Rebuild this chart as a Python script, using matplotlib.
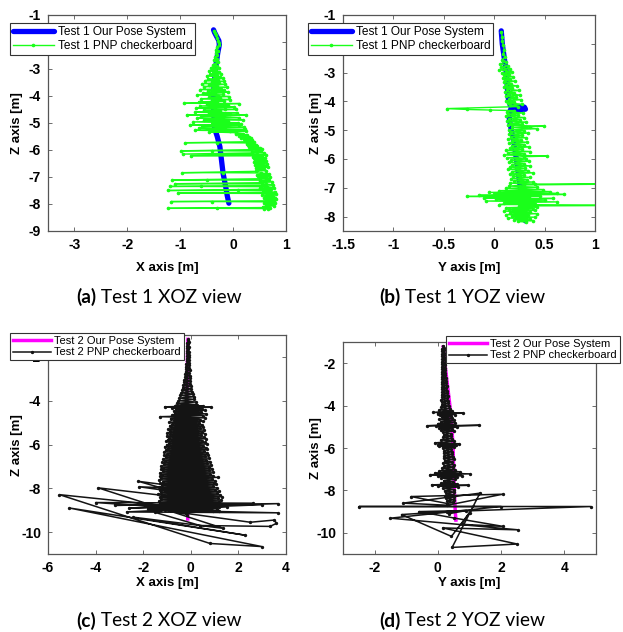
import matplotlib
matplotlib.use("Agg")
import matplotlib.pyplot as plt

plt.rcParams["font.family"] = ["Liberation Sans", "DejaVu Sans"]
plt.rcParams["axes.unicode_minus"] = False

# ---------------- data (x or y, z) in metres ----------------
# Test 1 - our pose system
t1_pose_x = [-0.37, -0.35, -0.31, -0.27, -0.26, -0.29, -0.32, -0.34, -0.36, -0.37,
             -0.37, -0.36, -0.35, -0.30, -0.25, -0.22, -0.19, -0.14, -0.11, -0.08]
t1_pose_z = [-1.55, -1.65, -1.80, -1.95, -2.10, -2.40, -2.80, -3.20, -3.60, -4.00,
             -4.40, -4.80, -5.20, -5.50, -5.88, -6.37, -6.86, -7.36, -7.70, -7.97]
t1_pose_y = [0.07, 0.08, 0.10, 0.12, 0.13, 0.14, 0.16, 0.30, 0.31, 0.16,
             0.15, 0.17, 0.20, 0.22, 0.24, 0.26, 0.28, 0.30, 0.31]
t1_pose_zy = [-1.55, -2.00, -2.50, -3.00, -3.50, -3.90, -4.15, -4.20, -4.27, -4.30,
              -4.60, -5.00, -5.50, -6.00, -6.50, -7.00, -7.50, -8.00, -8.15]

# Test 1 - PNP checkerboard, XOZ view (x, z)
t1_pnp_xoz = [
    (-0.36, -1.58), (-0.35, -1.66), (-0.33, -1.75), (-0.30, -1.85), (-0.28, -1.95),
    (-0.26, -2.05), (-0.27, -2.12), (-0.30, -2.20), (-0.32, -2.28), (-0.29, -2.35),
    (-0.33, -2.42), (-0.30, -2.50), (-0.35, -2.56), (-0.31, -2.62), (-0.36, -2.68),
    (-0.29, -2.74), (-0.34, -2.80), (-0.38, -2.86), (-0.30, -2.90),
    (-0.42, -2.95), (-0.27, -2.98), (-0.40, -3.02), (-0.32, -3.05), (-0.46, -3.08),
    (-0.26, -3.10), (-0.38, -3.14), (-0.22, -3.17), (-0.44, -3.20), (-0.30, -3.23),
    (-0.50, -3.26), (-0.24, -3.29), (-0.36, -3.32), (-0.20, -3.35), (-0.48, -3.38),
    (-0.28, -3.40), (-0.53, -3.43), (-0.18, -3.46), (-0.40, -3.49), (-0.26, -3.51),
    (-0.58, -3.54), (-0.15, -3.57), (-0.45, -3.60), (-0.30, -3.62), (-0.55, -3.65),
    (-0.12, -3.68), (-0.38, -3.70), (-0.22, -3.73), (-0.62, -3.76), (-0.18, -3.79),
    (-0.48, -3.82), (-0.10, -3.85), (-0.35, -3.87), (-0.56, -3.90), (-0.20, -3.93),
    (-0.68, -3.96), (-0.28, -3.99), (-0.08, -4.02), (-0.45, -4.05), (-0.25, -4.08),
    (-0.60, -4.10), (-0.05, -4.13), (-0.40, -4.16), (-0.18, -4.19), (-0.65, -4.22),
    (-0.30, -4.24), (-0.93, -4.27), (-0.40, -4.27), (0.12, -4.28), (-0.50, -4.31),
    (-0.10, -4.34), (-0.62, -4.37), (0.02, -4.40), (-0.35, -4.42), (-0.70, -4.45),
    (-0.15, -4.48), (0.05, -4.50), (-0.55, -4.53), (-0.25, -4.56), (-0.72, -4.59),
    (0.08, -4.62), (-0.45, -4.64), (-0.05, -4.67), (-0.88, -4.70), (-0.30, -4.70),
    (0.25, -4.71), (-0.60, -4.74), (-0.20, -4.77), (0.12, -4.80), (-0.68, -4.82),
    (-0.35, -4.85), (0.18, -4.88), (-0.55, -4.90), (-0.10, -4.93), (-0.75, -4.96),
    (0.10, -4.99), (-0.40, -5.02), (0.15, -5.05), (-0.82, -5.07), (0.12, -5.08),
    (-0.58, -5.11), (-0.15, -5.14), (0.20, -5.16), (-0.65, -5.19), (-0.30, -5.22),
    (0.22, -5.24), (-0.72, -5.27), (-0.05, -5.29), (0.25, -5.31), (-0.45, -5.33),
    (0.05, -5.36),
    (0.18, -5.39), (0.05, -5.42), (0.26, -5.45), (0.12, -5.48), (0.30, -5.51),
    (0.15, -5.54), (0.33, -5.57), (0.20, -5.60), (0.36, -5.63), (0.22, -5.66),
    (0.40, -5.69), (-0.91, -5.73), (-0.30, -5.73), (0.38, -5.74), (0.26, -5.77),
    (0.44, -5.80), (0.28, -5.83), (0.46, -5.86), (0.30, -5.89), (0.50, -5.92),
    (0.33, -5.95), (0.55, -5.98), (-0.98, -6.03), (-0.40, -6.03), (0.52, -6.04),
    (0.36, -6.07), (0.58, -6.10), (-0.95, -6.15), (0.45, -6.16), (0.62, -6.19),
    (-0.80, -6.21), (0.55, -6.22), (0.38, -6.25), (0.60, -6.28), (0.40, -6.31),
    (0.56, -6.34), (0.42, -6.37), (0.62, -6.40), (0.40, -6.43), (0.58, -6.46),
    (0.44, -6.49), (0.64, -6.52), (0.42, -6.55), (0.60, -6.58), (0.45, -6.61),
    (0.66, -6.64), (0.43, -6.67), (0.58, -6.70), (0.46, -6.73), (0.62, -6.76),
    (0.44, -6.79), (-0.96, -6.84), (-0.20, -6.84), (0.52, -6.85), (0.68, -6.88),
    (0.46, -6.91), (0.64, -6.94), (0.48, -6.97), (0.70, -7.00), (0.50, -7.03),
    (0.66, -7.06), (-1.15, -7.11), (-0.50, -7.11), (0.68, -7.12), (0.50, -7.15),
    (0.74, -7.18), (0.55, -7.21), (-1.10, -7.25), (0.62, -7.26), (0.76, -7.29),
    (0.52, -7.32), (-1.20, -7.35), (-0.60, -7.35), (0.65, -7.36), (0.78, -7.39),
    (0.50, -7.42), (0.72, -7.45), (-1.24, -7.50), (0.10, -7.50), (0.70, -7.51),
    (0.56, -7.54), (0.80, -7.57), (-1.05, -7.60), (0.72, -7.61), (0.82, -7.64),
    (0.55, -7.67), (0.76, -7.70), (0.60, -7.73), (0.80, -7.76), (0.58, -7.79),
    (0.82, -7.82), (0.62, -7.85), (0.78, -7.88), (-1.17, -7.91), (-0.40, -7.91),
    (0.64, -7.92), (0.80, -7.95), (0.58, -7.98), (0.76, -8.01), (0.62, -8.04),
    (0.78, -8.07), (0.56, -8.10), (0.70, -8.13), (-1.24, -8.16), (-0.30, -8.16),
    (0.66, -8.17), (0.58, -8.19),
]

# Test 1 - PNP checkerboard, YOZ view (y, z)
t1_pnp_yoz = [
    (0.07, -1.60), (0.08, -1.75), (0.08, -1.90), (0.09, -2.05), (0.10, -2.20),
    (0.09, -2.35), (0.11, -2.45), (0.08, -2.55), (0.12, -2.62), (0.06, -2.70),
    (0.14, -2.76), (0.07, -2.82), (0.16, -2.87), (0.05, -2.90), (0.12, -2.94),
    (0.18, -2.98), (0.08, -3.02), (0.15, -3.06), (0.10, -3.10), (0.19, -3.14),
    (0.09, -3.18), (0.16, -3.22), (0.11, -3.26), (0.21, -3.30), (0.10, -3.34),
    (0.17, -3.38), (0.12, -3.42), (0.23, -3.46), (0.10, -3.50), (0.18, -3.54),
    (0.13, -3.58), (0.25, -3.62), (0.11, -3.66), (0.20, -3.70), (0.14, -3.74),
    (0.26, -3.78), (0.12, -3.82), (0.22, -3.86), (0.15, -3.90), (0.27, -3.94),
    (0.12, -3.98), (0.20, -4.02), (0.14, -4.06), (0.28, -4.10), (0.16, -4.14),
    (0.24, -4.18), (-0.47, -4.25), (-0.27, -4.28), (-0.04, -4.30), (0.20, -4.32),
    (0.13, -4.36), (0.29, -4.40), (0.14, -4.44), (0.24, -4.48), (0.12, -4.52),
    (0.30, -4.56), (0.15, -4.60), (0.26, -4.64), (0.13, -4.68), (0.32, -4.72),
    (0.16, -4.76), (0.28, -4.80), (0.14, -4.83), (0.49, -4.86), (0.36, -4.88),
    (0.18, -4.90), (0.42, -4.95), (0.15, -4.98), (0.30, -5.02), (0.17, -5.06),
    (0.34, -5.10), (0.15, -5.14), (0.28, -5.18), (0.17, -5.22), (0.32, -5.26),
    (0.14, -5.30), (0.27, -5.34), (0.18, -5.38), (0.33, -5.42), (0.15, -5.46),
    (0.30, -5.50), (0.18, -5.54), (0.35, -5.58), (0.16, -5.62), (0.28, -5.66),
    (0.12, -5.70), (0.36, -5.74), (0.14, -5.78), (0.30, -5.82), (0.10, -5.86),
    (0.52, -5.90), (0.30, -5.92), (0.13, -5.96), (0.32, -6.00), (0.17, -6.04),
    (0.35, -6.08), (0.15, -6.12), (0.30, -6.16), (0.18, -6.20), (0.36, -6.24),
    (0.16, -6.28), (0.31, -6.32), (0.14, -6.36), (0.34, -6.40), (0.18, -6.44),
    (0.38, -6.48), (0.16, -6.52), (0.30, -6.56), (0.19, -6.60), (0.36, -6.64),
    (0.17, -6.68), (0.33, -6.72), (0.20, -6.76), (0.38, -6.80), (0.16, -6.84),
    (0.40, -6.87), (1.60, -6.86), (0.30, -6.90), (0.15, -6.94), (0.42, -6.98),
    (0.12, -7.02), (0.48, -7.06), (0.05, -7.10), (0.55, -7.13), (-0.05, -7.16),
    (0.62, -7.19), (0.00, -7.22), (0.69, -7.23), (-0.15, -7.26), (0.45, -7.28),
    (-0.27, -7.30), (0.35, -7.32), (-0.10, -7.35), (0.58, -7.37), (0.02, -7.40),
    (0.50, -7.43), (-0.08, -7.46), (0.62, -7.49), (0.10, -7.52), (0.40, -7.55),
    (0.05, -7.58), (1.60, -7.61), (0.25, -7.63), (0.42, -7.66), (0.12, -7.69),
    (0.38, -7.72), (0.15, -7.75), (0.40, -7.78), (0.10, -7.81), (0.36, -7.84),
    (0.16, -7.87), (0.42, -7.90), (0.12, -7.93), (0.34, -7.96), (0.18, -7.99),
    (0.40, -8.02), (0.14, -8.05), (0.36, -8.08), (0.20, -8.11), (0.38, -8.14),
    (0.24, -8.17), (0.32, -8.19),
]

# Test 2 - our pose system
t2_pose_x = [-0.12, -0.14, -0.15, -0.17, -0.17, -0.16, -0.15, -0.14, -0.13, -0.13]
t2_pose_z = [-1.20, -2.00, -3.00, -4.00, -5.00, -6.00, -7.00, -8.00, -9.00, -9.40]
t2_pose_y = [0.17, 0.22, 0.30, 0.38, 0.44, 0.48, 0.50, 0.52, 0.55, 0.57]
t2_pose_zy = [-1.23, -2.00, -3.00, -4.00, -5.00, -6.00, -7.00, -8.00, -9.00, -9.40]

# Test 2 - PNP checkerboard, XOZ view (x, z)
t2_pnp_xoz = [
    (-0.10, -1.20), (-0.13, -1.25), (-0.09, -1.30), (-0.14, -1.36), (-0.10, -1.42),
    (-0.14, -1.48), (-0.09, -1.54), (-0.15, -1.60), (-0.10, -1.66), (-0.15, -1.72),
    (-0.08, -1.78), (-0.16, -1.84), (-0.09, -1.90), (-0.16, -1.96), (-0.08, -2.02),
    (-0.17, -2.08), (-0.07, -2.14), (-0.18, -2.20), (-0.08, -2.26), (-0.19, -2.32),
    (-0.06, -2.38), (-0.20, -2.44), (-0.07, -2.50), (-0.21, -2.56), (-0.05, -2.62),
    (-0.22, -2.68), (-0.06, -2.74), (-0.24, -2.80), (-0.04, -2.86), (-0.25, -2.92),
    (-0.05, -2.98), (-0.27, -3.04), (-0.03, -3.10), (-0.29, -3.16), (-0.02, -3.22),
    (-0.31, -3.28), (0.00, -3.34), (-0.34, -3.40), (0.02, -3.46), (-0.37, -3.52),
    (0.05, -3.58), (-0.40, -3.64), (0.08, -3.70), (-0.44, -3.76), (0.12, -3.82),
    (-0.48, -3.88), (0.15, -3.94), (-0.52, -4.00), (0.20, -4.06), (-0.58, -4.12),
    (0.28, -4.18), (-0.65, -4.22), (0.50, -4.24),
    (-1.10, -4.28), (0.85, -4.30), (-0.80, -4.33), (0.45, -4.36), (-0.62, -4.40),
    (0.58, -4.44), (-0.72, -4.48), (0.42, -4.52), (-0.66, -4.56), (0.62, -4.60),
    (-0.78, -4.64), (0.50, -4.68), (-1.30, -4.73), (-0.55, -4.75), (0.60, -4.78),
    (-0.85, -4.82), (0.38, -4.86), (-0.72, -4.90), (0.52, -4.94), (-0.90, -4.98),
    (0.35, -5.02), (-0.78, -5.06), (0.48, -5.10), (-0.88, -5.14), (0.52, -5.18),
    (-0.82, -5.22), (0.40, -5.26), (-0.95, -5.30), (0.55, -5.34), (-0.86, -5.38),
    (0.45, -5.42), (-0.98, -5.46), (0.58, -5.50), (-0.88, -5.54), (0.42, -5.58),
    (-1.00, -5.62), (0.55, -5.66), (-0.92, -5.70), (0.62, -5.74), (-0.97, -5.78),
    (0.48, -5.82), (-1.04, -5.86), (0.58, -5.90), (-0.92, -5.94), (0.66, -5.98),
    (-1.02, -6.02), (0.52, -6.06), (-1.10, -6.10), (0.62, -6.14), (-0.96, -6.18),
    (0.70, -6.22), (-1.06, -6.26), (0.56, -6.30), (-1.12, -6.34), (0.66, -6.38),
    (-1.00, -6.42), (0.74, -6.46), (-1.14, -6.50), (0.60, -6.54), (-1.06, -6.58),
    (0.78, -6.62), (-1.16, -6.66), (0.65, -6.70), (-1.08, -6.74), (0.82, -6.78),
    (-1.20, -6.82), (0.70, -6.86), (-1.12, -6.90), (0.86, -6.94), (-1.24, -6.98),
    (0.75, -7.02), (-1.15, -7.06), (0.90, -7.10), (-1.26, -7.14), (0.78, -7.18),
    (-1.18, -7.22), (0.95, -7.26), (-1.30, -7.30), (0.82, -7.34), (-1.22, -7.38),
    (0.92, -7.42), (-1.28, -7.46), (1.15, -7.50), (-1.24, -7.54), (0.90, -7.58),
    (-1.32, -7.62), (1.02, -7.66), (-1.18, -7.70), (0.96, -7.74), (-1.28, -7.78),
    (1.06, -7.82), (-1.22, -7.86), (0.92, -7.90), (-1.32, -7.94), (1.10, -7.98),
    (-1.20, -8.02), (1.00, -8.06), (-1.30, -8.10), (1.18, -8.14), (-1.26, -8.18),
    (1.08, -8.22), (-1.36, -8.26), (1.24, -8.30), (-1.22, -8.34), (1.30, -8.38),
    (-1.30, -8.42), (1.15, -8.46), (-1.25, -8.50), (1.28, -8.54), (-1.32, -8.58),
    (1.20, -8.62), (-1.28, -8.66), (1.32, -8.70), (-1.22, -8.74), (1.25, -8.78),
    (-1.30, -8.82), (1.18, -8.86), (-1.20, -8.90), (1.10, -8.94), (-1.10, -8.98),
    (0.95, -9.02),
    (-4.00, -8.65), (2.60, -8.68), (-3.20, -8.78), (3.68, -8.70), (-2.60, -8.90),
    (3.00, -8.75), (-1.80, -8.95), (1.50, -8.85), (-2.70, -9.08), (3.68, -9.12),
    (-1.30, -9.00), (1.20, -9.05), (-5.52, -8.29), (0.81, -10.52), (2.98, -10.66),
    (-5.10, -8.90), (2.28, -10.14), (-2.41, -9.32), (1.37, -9.83), (-3.89, -7.98),
    (0.60, -8.55), (-2.21, -7.68), (0.40, -8.05), (-2.17, -7.93), (0.90, -8.40),
    (-1.50, -9.10), (0.39, -9.70), (3.33, -9.74), (3.60, -9.60), (3.51, -9.45),
    (2.50, -9.55), (-0.50, -9.10), (-0.15, -9.20),
]

# Test 2 - PNP checkerboard, YOZ view (y, z)
t2_pnp_yoz = [
    (0.15, -1.20), (0.19, -1.26), (0.14, -1.32), (0.19, -1.38), (0.13, -1.44),
    (0.20, -1.50), (0.14, -1.56), (0.20, -1.62), (0.13, -1.68), (0.21, -1.74),
    (0.14, -1.80), (0.21, -1.86), (0.13, -1.92), (0.22, -1.98), (0.14, -2.04),
    (0.22, -2.10), (0.13, -2.16), (0.23, -2.22), (0.14, -2.28), (0.23, -2.34),
    (0.13, -2.40), (0.24, -2.46), (0.14, -2.52), (0.24, -2.58), (0.13, -2.64),
    (0.25, -2.70), (0.14, -2.76), (0.26, -2.82), (0.13, -2.88), (0.26, -2.94),
    (0.12, -3.00), (0.28, -3.06), (0.14, -3.12), (0.27, -3.18), (0.12, -3.24),
    (0.29, -3.30), (0.13, -3.36), (0.30, -3.42), (0.12, -3.48), (0.31, -3.54),
    (0.14, -3.60), (0.30, -3.66), (0.11, -3.72), (0.32, -3.78), (0.13, -3.84),
    (0.33, -3.90), (0.12, -3.96), (0.34, -4.02), (0.10, -4.08), (0.38, -4.14),
    (0.05, -4.20), (0.45, -4.26), (-0.15, -4.32), (0.80, -4.36), (0.00, -4.38),
    (0.55, -4.42), (0.08, -4.46), (0.40, -4.50), (0.12, -4.55), (0.45, -4.60),
    (0.05, -4.65), (0.50, -4.70), (0.10, -4.75), (0.55, -4.80), (0.00, -4.85),
    (0.48, -4.90), (-0.34, -4.95), (1.31, -4.93), (-0.05, -4.98), (0.60, -5.02),
    (0.05, -5.06), (0.45, -5.10), (0.10, -5.15), (0.50, -5.20), (0.15, -5.26),
    (0.40, -5.32), (0.18, -5.38), (0.42, -5.44), (0.16, -5.50), (0.45, -5.56),
    (0.10, -5.62), (0.52, -5.68), (-0.10, -5.76), (0.66, -5.80), (0.00, -5.84),
    (0.58, -5.88), (0.05, -5.92), (0.50, -5.96), (0.15, -6.00), (0.42, -6.06),
    (0.20, -6.12), (0.45, -6.18), (0.18, -6.24), (0.46, -6.30), (0.20, -6.36),
    (0.48, -6.42), (0.18, -6.48), (0.50, -6.54), (0.21, -6.60), (0.45, -6.66),
    (0.16, -6.72), (0.50, -6.78), (0.20, -6.84), (0.48, -6.90), (0.12, -6.96),
    (0.55, -7.02), (0.05, -7.08), (0.70, -7.12), (-0.10, -7.18), (1.00, -7.22),
    (-0.25, -7.26), (0.75, -7.30), (0.00, -7.34), (0.60, -7.38), (0.10, -7.42),
    (0.55, -7.48), (0.18, -7.54), (0.48, -7.60), (0.10, -7.66), (0.60, -7.70),
    (-0.20, -7.74), (0.95, -7.76), (0.00, -7.80), (0.65, -7.84), (0.15, -7.90),
    (0.50, -7.96), (0.22, -8.02), (0.50, -8.08), (0.25, -8.14), (0.48, -8.20),
    (0.22, -8.26), (0.52, -8.32), (0.26, -8.38), (0.50, -8.44), (0.28, -8.50),
    (0.48, -8.56), (0.30, -8.62),
    (-0.85, -8.29), (2.05, -8.18), (0.30, -8.70), (-1.10, -8.60), (1.33, -8.13),
    (0.45, -10.69), (2.51, -10.53), (0.15, -9.77), (2.54, -9.86), (-1.50, -9.31),
    (1.99, -8.76), (-2.49, -8.76), (4.83, -8.76), (0.30, -9.00), (-1.15, -9.14),
    (0.43, -10.17), (1.00, -9.05), (0.75, -9.60), (2.07, -9.70), (0.50, -9.30),
    (-0.60, -9.00), (0.90, -8.95), (0.35, -9.10),
]

# axis ticks
t1x_ticks = [-3, -2, -1, 0, 1]
t1x_labels = ["-3", "-2", "-1", "0", "1"]
t1z_ticks = [-9, -8, -7, -6, -5, -4, -3, -2, -1]
t1z_labels = ["-9", "-8", "-7", "-6", "-5", "-4", "-3", "-2", "-1"]
t1y_ticks = [-1.5, -1, -0.5, 0, 0.5, 1]
t1y_labels = ["-1.5", "-1", "-0.5", "0", "0.5", "1"]
t1zb_ticks = [-8, -7, -6, -5, -4, -3, -2, -1]
t1zb_labels = ["-8", "-7", "-6", "-5", "-4", "-3", "-2", "-1"]
t2x_ticks = [-6, -4, -2, 0, 2, 4]
t2x_labels = ["-6", "-4", "-2", "0", "2", "4"]
t2z_ticks = [-10, -8, -6, -4, -2]
t2z_labels = ["-10", "-8", "-6", "-4", "-2"]
t2y_ticks = [-2, 0, 2, 4]
t2y_labels = ["-2", "0", "2", "4"]

legend_labels = ["Test 1 Our Pose System", "Test 1 PNP checkerboard",
                 "Test 2 Our Pose System", "Test 2 PNP checkerboard"]
captions = [("(a)", " Test 1 XOZ view"), ("(b)", " Test 1 YOZ view"),
            ("(c)", " Test 2 XOZ view"), ("(d)", " Test 2 YOZ view")]

# ---------------- figure ----------------
W, H = 623, 632
fig = plt.figure(figsize=(W / 100, H / 100), dpi=100)
fig.patch.set_facecolor("white")


def fx(px):
    return px / W


def fy(py):
    return 1 - py / H


def make_ax(l, t, r, b):
    return fig.add_axes([fx(l), fy(b), (r - l) / W, (b - t) / H])


def style(ax, xlim, ylim, xt, xl, yt, yl):
    ax.set_xlim(xlim)
    ax.set_ylim(ylim)
    ax.set_xticks(xt)
    ax.set_xticklabels(xl, fontweight="bold")
    ax.set_yticks(yt)
    ax.set_yticklabels(yl, fontweight="bold")
    ax.tick_params(direction="in", top=True, right=True, length=3, width=0.6,
                   color="#555555", labelsize=10, pad=5, labelcolor="black")
    for s in ax.spines.values():
        s.set_color("#555555")
        s.set_linewidth(0.9)


def split(pairs):
    return [p[0] for p in pairs], [p[1] for p in pairs]


GREEN = "#1aff1a"
BLUE = "#0000ff"
MAG = "#ff00ff"
BLK = "#141414"


def add_legend(ax, handles, labels, l, t, fs, hl):
    leg = ax.legend(handles, labels, loc="upper left",
                    bbox_to_anchor=(fx(l), fy(t)), bbox_transform=fig.transFigure,
                    borderaxespad=0, frameon=True, fancybox=False,
                    edgecolor="#333333", framealpha=1, fontsize=fs,
                    handlelength=hl, handletextpad=0.35, borderpad=0.25,
                    labelspacing=0.15)
    leg.get_frame().set_linewidth(0.8)
    leg.set_zorder(10)
    return leg


# (a)
ax_a = make_ax(48, 15, 286, 231)
b1, = ax_a.plot(t1_pose_x, t1_pose_z, "-", color=BLUE, lw=3.8, solid_capstyle="round", zorder=2)
gx, gz = split(t1_pnp_xoz)
g1, = ax_a.plot(gx, gz, "-", color=GREEN, lw=1.0, marker=".", ms=3.2, zorder=3)
style(ax_a, (-3.5, 1), (-9, -1), t1x_ticks, t1x_labels, t1z_ticks, t1z_labels)
add_legend(ax_a, [b1, g1], legend_labels[:2], 10, 23, 8.6, 3.4)

# (b)
ax_b = make_ax(343, 15, 595, 231)
b2, = ax_b.plot(t1_pose_y, t1_pose_zy, "-", color=BLUE, lw=3.8, solid_capstyle="round", zorder=2)
gy, gzy = split(t1_pnp_yoz)
g2, = ax_b.plot(gy, gzy, "-", color=GREEN, lw=1.0, marker=".", ms=3.2, zorder=3)
style(ax_b, (-1.5, 1), (-8.5, -1), t1y_ticks, t1y_labels, t1zb_ticks, t1zb_labels)
add_legend(ax_b, [b2, g2], legend_labels[:2], 308, 23, 8.6, 3.4)

# (c)
ax_c = make_ax(48, 335, 286, 554)
m3, = ax_c.plot(t2_pose_x, t2_pose_z, "-", color=MAG, lw=2.5, zorder=2)
kx, kz = split(t2_pnp_xoz)
k3, = ax_c.plot(kx, kz, "-", color=BLK, lw=1.1, marker=".", ms=2.8, zorder=3)
style(ax_c, (-6, 4), (-11, -1), t2x_ticks, t2x_labels, t2z_ticks, t2z_labels)
add_legend(ax_c, [m3, k3], legend_labels[2:], 10, 333, 8.0, 3.4)

# (d)
ax_d = make_ax(343, 342, 596, 554)
m4, = ax_d.plot(t2_pose_y, t2_pose_zy, "-", color=MAG, lw=2.5, zorder=2)
ky, kzy = split(t2_pnp_yoz)
k4, = ax_d.plot(ky, kzy, "-", color=BLK, lw=1.1, marker=".", ms=2.8, zorder=3)
style(ax_d, (-3, 5), (-11, -1), t2y_ticks, t2y_labels, t2z_ticks, t2z_labels)
add_legend(ax_d, [m4, k4], legend_labels[2:], 446, 336, 8.0, 3.4)

# axis labels
lab_kw = dict(fontweight="bold", fontsize=9.5, ha="center", va="center")
fig.text(fx(167), fy(268), "X axis [m]", **lab_kw)
fig.text(fx(469), fy(268), "Y axis [m]", **lab_kw)
fig.text(fx(167), fy(583), "X axis [m]", **lab_kw)
fig.text(fx(469), fy(583), "Y axis [m]", **lab_kw)
fig.text(fx(17), fy(123), "Z axis [m]", rotation=90, **lab_kw)
fig.text(fx(316), fy(123), "Z axis [m]", rotation=90, **lab_kw)
fig.text(fx(17), fy(445), "Z axis [m]", rotation=90, **lab_kw)
fig.text(fx(316), fy(448), "Z axis [m]", rotation=90, **lab_kw)

# captions
cap_pos = [(76, 297), (379, 297), (76, 621), (379, 621)]
for (bold, rest), (cx, cy) in zip(captions, cap_pos):
    t = fig.text(fx(cx), fy(cy), bold, fontweight="bold", fontsize=13.8,
                 family=["Lato", "DejaVu Sans"], ha="left", va="center")
    fig.canvas.draw()
    bb = t.get_window_extent()
    fig.text(bb.x1 / W, fy(cy), rest, fontsize=13.8,
             family=["Lato", "DejaVu Sans"], ha="left", va="center")

fig.savefig("out.png", dpi=100, facecolor="white")
